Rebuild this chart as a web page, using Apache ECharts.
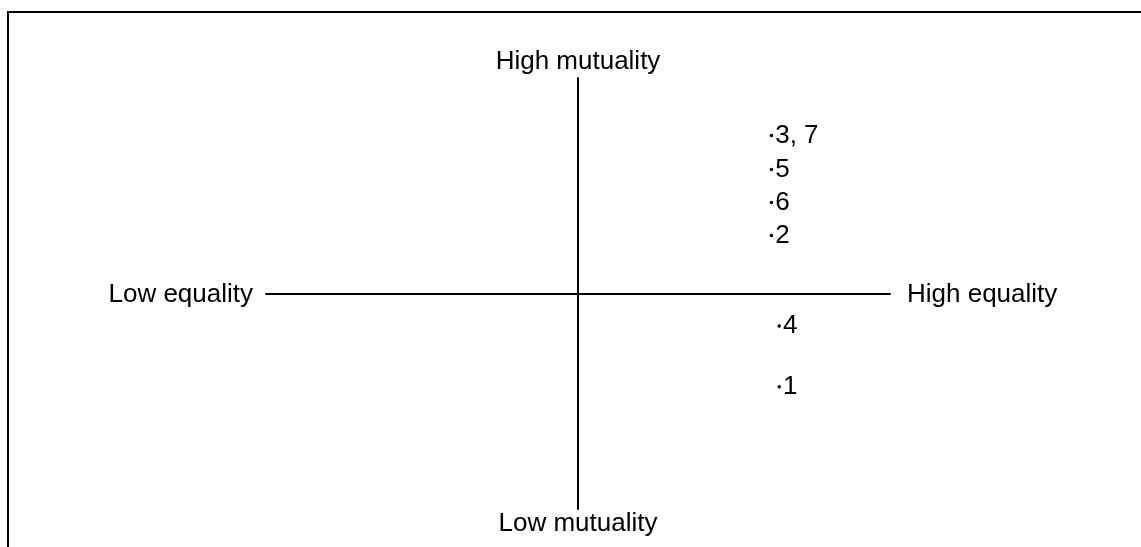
<!DOCTYPE html>
<html>
<head>
<meta charset="utf-8">
<script src="https://cdn.jsdelivr.net/npm/echarts@6/dist/echarts.min.js"></script>
<style>
  html, body { margin: 0; padding: 0; background: #fff; }
  #chart { width: 1141px; height: 547px; }
</style>
</head>
<body>
<div id="chart"></div>
<script>
// case numbers and their position on the equality / mutuality plane
const caseLabels = ['3, 7', '5', '6', '2', '4', '1']
const equality = [0.62, 0.62, 0.62, 0.62, 0.645, 0.645]
const mutuality = [0.733, 0.575, 0.422, 0.269, -0.151, -0.433]

const axisLabels = {
  xLow: 'Low equality', xHigh: 'High equality',
  yLow: 'Low mutuality', yHigh: 'High mutuality',
}

const FONT = '"Liberation Sans", Arial, Helvetica, sans-serif'
const grid = { left: 266, right: 251, top: 78, bottom: 38 }
const W = 1141, H = 547
const cx = grid.left + (W - grid.left - grid.right) / 2
const cy = grid.top + (H - grid.top - grid.bottom) / 2

const chart = echarts.init(document.getElementById('chart'), null, { renderer: 'canvas' })

const txt = (text, x, y, align) => ({
  type: 'text', x, y,
  style: { text, fill: '#000', font: `26px ${FONT}`, align, verticalAlign: 'middle' },
})

const option = {
  animation: false,
  grid,
  xAxis: {
    type: 'value', min: -1, max: 1,
    axisLine: { onZero: true, lineStyle: { color: '#000', width: 2 } },
    axisTick: { show: false }, axisLabel: { show: false }, splitLine: { show: false },
  },
  yAxis: {
    type: 'value', min: -1, max: 1,
    axisLine: { onZero: true, lineStyle: { color: '#000', width: 2 } },
    axisTick: { show: false }, axisLabel: { show: false }, splitLine: { show: false },
  },
  graphic: [
    { type: 'line', shape: { x1: 7, y1: 12, x2: W, y2: 12 }, style: { stroke: '#000', lineWidth: 2 } },
    { type: 'line', shape: { x1: 8, y1: 11, x2: 8, y2: H }, style: { stroke: '#000', lineWidth: 2 } },
    txt(axisLabels.yHigh, cx, 62, 'center'),
    txt(axisLabels.yLow, cx, 524, 'center'),
    txt(axisLabels.xLow, grid.left - 13, cy + 1, 'right'),
    txt(axisLabels.xHigh, W - grid.right + 17, cy + 1, 'left'),
  ],
  series: [{
    type: 'scatter',
    data: caseLabels.map((c, i) => [equality[i], mutuality[i], c]),
    symbol: 'circle',
    symbolSize: 3.5,
    itemStyle: { color: '#000', opacity: 1 },
    label: {
      show: true, position: 'right', distance: 2,
      formatter: p => p.value[2],
      color: '#000', opacity: 1, fontFamily: FONT, fontSize: 26,
    },
  }],
}

chart.setOption(option)
</script>
</body>
</html>
